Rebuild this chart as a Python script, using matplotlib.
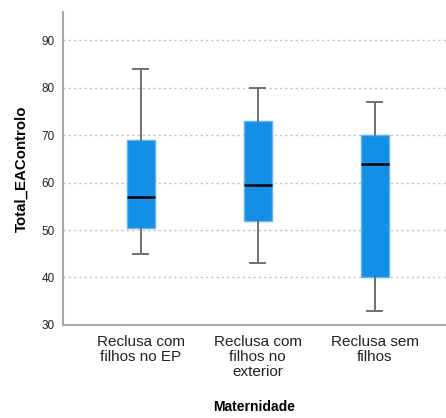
import matplotlib
matplotlib.use("Agg")
import matplotlib.pyplot as plt

# ----- data -----
groups = ["Reclusa com\nfilhos no EP", "Reclusa com\nfilhos no\nexterior", "Reclusa sem\nfilhos"]
whislo = [45, 43, 33]
q1 = [50.5, 52, 40]
med = [57, 59.5, 64]
q3 = [69, 73, 70]
whishi = [84, 80, 77]

plt.rcParams["font.family"] = ["Liberation Sans", "DejaVu Sans"]

stats = []
for i in range(len(groups)):
    stats.append({"label": groups[i], "whislo": whislo[i], "q1": q1[i],
                  "med": med[i], "q3": q3[i], "whishi": whishi[i], "fliers": []})

fig = plt.figure(figsize=(4.46, 4.18), dpi=100)
ax = fig.add_axes([0.1413, 0.2225, 0.8587, 0.7488])

ax.bxp(stats, positions=[1, 2, 3], widths=0.24, capwidths=0.13,
       showfliers=False, patch_artist=True,
       boxprops=dict(facecolor="#138fe6", edgecolor="#5fb3f0", linewidth=1.0),
       medianprops=dict(color="black", linewidth=1.8),
       whiskerprops=dict(color="#707070", linewidth=1.4),
       capprops=dict(color="#707070", linewidth=1.4),
       zorder=3)

ax.set_xlim(0.336, 3.61)
ax.set_ylim(30, 95.9)
ax.set_yticks([30, 40, 50, 60, 70, 80, 90])
ax.yaxis.grid(True, linestyle=(0, (1.6, 2.2)), color="#c4c4c4", linewidth=1.0)
ax.set_axisbelow(True)

for s in ["top", "right"]:
    ax.spines[s].set_visible(False)
for s in ["left", "bottom"]:
    ax.spines[s].set_color("#a8a8a8")
    ax.spines[s].set_linewidth(1.5)

ax.tick_params(axis="y", length=0, labelsize=8.5, pad=6, labelcolor="#222222")
ax.tick_params(axis="x", length=0, labelsize=11, pad=7, labelcolor="#222222")
for lab in ax.get_xticklabels():
    lab.set_linespacing(1.12)

ax.set_ylabel("Total_EAControlo", fontsize=10.8, fontweight="bold", labelpad=9)
ax.set_xlabel("Maternidade", fontsize=10, fontweight="bold", labelpad=15)

fig.savefig("out.png", dpi=100)
